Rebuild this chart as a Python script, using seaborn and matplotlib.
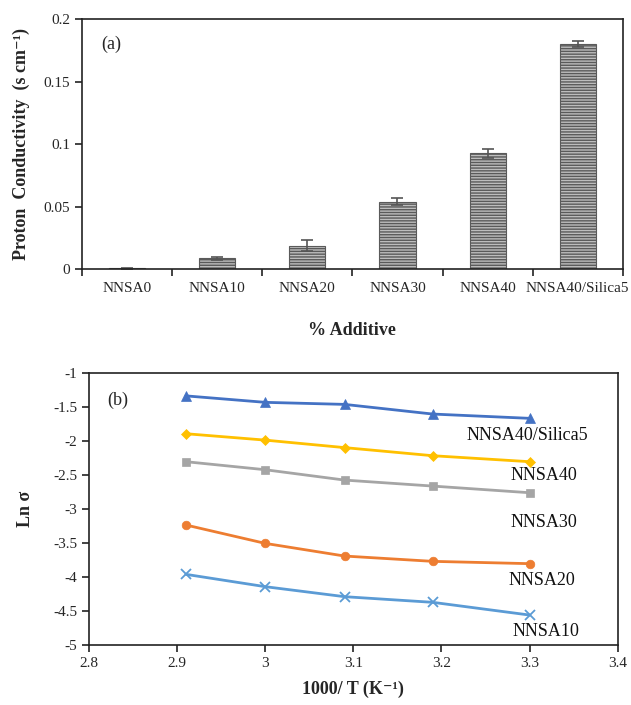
import numpy as np
import pandas as pd
import matplotlib
matplotlib.use("Agg")
import matplotlib.pyplot as plt
from matplotlib.ticker import FuncFormatter, FixedLocator
import seaborn as sns

sns.set_theme(style="white")
plt.rcParams["font.family"] = ["Liberation Serif", "DejaVu Serif"]
plt.rcParams["axes.unicode_minus"] = False
plt.rcParams["hatch.linewidth"] = 1.0
plt.rcParams["hatch.color"] = "#5a5a5a"

# Panel (a): proton conductivity by membrane composition
membranes = ["NNSA0", "NNSA10", "NNSA20", "NNSA30", "NNSA40", "NNSA40/Silica5"]
conductivity = [0.0006, 0.0085, 0.0187, 0.054, 0.0925, 0.180]
conductivity_err = [0.0002, 0.0012, 0.0042, 0.003, 0.0035, 0.0025]

# Panel (b): Arrhenius plot, ln(sigma) vs 1000/T
inv_temp = [2.91, 3.0, 3.09, 3.19, 3.3]
ln_sigma_silica5 = [-1.34, -1.435, -1.465, -1.607, -1.67]
ln_sigma_nnsa40 = [-1.896, -1.99, -2.10, -2.219, -2.307]
ln_sigma_nnsa30 = [-2.307, -2.425, -2.577, -2.665, -2.763]
ln_sigma_nnsa20 = [-3.237, -3.507, -3.693, -3.771, -3.805]
ln_sigma_nnsa10 = [-3.962, -4.143, -4.29, -4.373, -4.56]

# name, values, colour, marker, marker size, label position
series = [
    ("NNSA40/Silica5", ln_sigma_silica5, "#4472C4", "^", 6.5, 3.297, -1.915),
    ("NNSA40", ln_sigma_nnsa40, "#FFC000", "D", 4.8, 3.316, -2.503),
    ("NNSA30", ln_sigma_nnsa30, "#A5A5A5", "s", 5.8, 3.316, -3.193),
    ("NNSA20", ln_sigma_nnsa20, "#ED7D31", "o", 6.2, 3.314, -4.046),
    ("NNSA10", ln_sigma_nnsa10, "#5B9BD5", "x", 6.5, 3.318, -4.795),
]

fig = plt.figure(figsize=(6.31, 7.05), dpi=100)
ax1 = fig.add_axes([0.130, 0.6184, 0.857, 0.3546])
ax2 = fig.add_axes([0.141, 0.0851, 0.838, 0.3862])

# ---- (a) bar chart ----
df_bar = pd.DataFrame({"membrane": membranes, "conductivity": conductivity})
sns.barplot(data=df_bar, x="membrane", y="conductivity", ax=ax1,
            color="#bdbdbd", width=0.4, errorbar=None, saturation=1)
for patch in ax1.patches:
    patch.set_hatch("------")
    patch.set_edgecolor("#5a5a5a")
    patch.set_linewidth(0.8)
ax1.errorbar(np.arange(len(membranes)), conductivity, yerr=conductivity_err,
             fmt="none", ecolor="#555555", elinewidth=1.2, capsize=4, capthick=1.2)

ax1.set_xlim(-0.5, len(membranes) - 0.5)
ax1.set_ylim(0, 0.2)
ax1.set_yticks([0, 0.05, 0.1, 0.15, 0.2])
ax1.yaxis.set_major_formatter(FuncFormatter(lambda v, p: f"{v:g}"))
ax1.xaxis.set_major_locator(FixedLocator(np.arange(len(membranes))))
ax1.set_xticklabels(membranes)
ax1.xaxis.set_minor_locator(FixedLocator(np.arange(-0.5, len(membranes), 1.0)))
ax1.tick_params(axis="x", which="major", length=0, labelsize=11, pad=9)
ax1.tick_params(axis="x", which="minor", length=5, width=1.2, direction="out",
                color="#222222", bottom=True)
ax1.tick_params(axis="y", length=5, width=1.2, direction="out", labelsize=11,
                color="#222222", left=True)
ax1.set_xlabel("% Additive", fontsize=13, fontweight="bold", labelpad=20)
ax1.set_ylabel("Proton  Conductivity  (s cm⁻¹)", fontsize=13,
               fontweight="bold", labelpad=10)
ax1.text(0.035, 0.9, "(a)", transform=ax1.transAxes, fontsize=13, va="center")
for sp in ax1.spines.values():
    sp.set_color("#222222")
    sp.set_linewidth(1.2)

# ---- (b) Arrhenius plot ----
for name, vals, color, marker, msize, lx, ly in series:
    df_line = pd.DataFrame({"x": inv_temp, "y": vals})
    sns.lineplot(data=df_line, x="x", y="y", ax=ax2, color=color, marker=marker,
                 markersize=msize, markeredgecolor=color,
                 markeredgewidth=1.3 if marker == "x" else 0.5,
                 linewidth=2, estimator=None, sort=False)
    ax2.text(lx, ly, name, fontsize=13, ha="center", va="center", color="#111111")

ax2.set_xlim(2.8, 3.4)
ax2.set_ylim(-5, -1)
ax2.set_xticks([2.8, 2.9, 3.0, 3.1, 3.2, 3.3, 3.4])
ax2.set_yticks([-5, -4.5, -4, -3.5, -3, -2.5, -2, -1.5, -1])
fmt = FuncFormatter(lambda v, p: f"{v:g}")
ax2.xaxis.set_major_formatter(fmt)
ax2.yaxis.set_major_formatter(fmt)
ax2.tick_params(axis="both", length=5, width=1.2, direction="out", labelsize=11,
                color="#222222", bottom=True, left=True)
ax2.set_xlabel("1000/ T (K⁻¹)", fontsize=13, fontweight="bold", labelpad=8)
ax2.set_ylabel("Ln σ", fontsize=13, fontweight="bold", labelpad=14)
ax2.text(0.035, 0.9, "(b)", transform=ax2.transAxes, fontsize=13, va="center")
for sp in ax2.spines.values():
    sp.set_color("#222222")
    sp.set_linewidth(1.2)

fig.savefig("out.png", dpi=100)
